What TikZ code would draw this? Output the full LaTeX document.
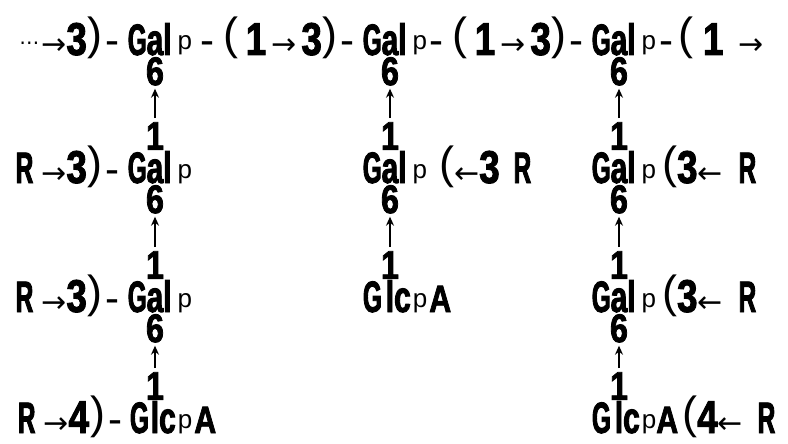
\documentclass[tikz,border=0pt]{standalone}
\usepackage{fontspec}
\setmainfont{Liberation Sans}
\newfontfamily\heavy{Liberation Sans Bold}[FakeStretch=0.68,FakeBold=2]
\newfontfamily\narrow{Liberation Sans Bold}[FakeStretch=0.55,FakeBold=2]
\newfontfamily\digit{Liberation Sans Bold}[FakeStretch=0.8,FakeBold=2]
\newfontfamily\arrowfont{DejaVu Sans}
\usetikzlibrary{arrows.meta}
\usetikzlibrary{positioning}

% pieces of the linkage notation
\newcommand\toR{{\arrowfont\fontsize{30}{30}\selectfont →}}
\newcommand\toL{{\arrowfont\fontsize{30}{30}\selectfont ←}}
\newcommand\dg[1]{{\digit\fontsize{46}{46}\selectfont #1}}
\newcommand\opn{{\rmfamily\fontsize{45}{45}\selectfont\smash{\raisebox{5pt}{(}}}}
\newcommand\cls{{\rmfamily\fontsize{45}{45}\selectfont\smash{\raisebox{5pt}{)}}}}
\newcommand\hyph{{\rmfamily\fontsize{42}{42}\selectfont -}}
\newcommand\capit[1]{{\narrow #1}}
\newcommand\pyr[1][6pt]{\hspace{#1}\raisebox{5pt}{\rmfamily\fontsize{26}{26}\selectfont p}}
\newcommand\acid{{\digit\fontsize{38}{38}\selectfont A}}
\newcommand\dotsleft{\raisebox{5pt}{\arrowfont\fontsize{20}{20}\selectfont ⋯}}

\tikzset{
  res/.style={inner sep=0pt, anchor=base, font=\heavy\fontsize{44}{44}\selectfont},
  num/.style={inner sep=0pt, font=\digit\fontsize{40}{40}\selectfont},
  link/.style={-{Stealth[length=9pt,width=8pt]}, line width=1.8pt, shorten >=3pt, shorten <=4pt}
}

\begin{document}
\begin{tikzpicture}[x=1pt,y=-1pt]
  \useasboundingbox (0,0) rectangle (788,444);
  % main chain
  \node[res] (g11) at (155,55) {\llap{\dotsleft\hspace{2pt}\toR\dg{3}\hspace{1pt}\cls\hspace{3pt}\hyph\hspace{8pt}\capit{G}}a\rlap{l\pyr}};
  \node[res] (g12) at (390,55) {\llap{\hyph\hspace{9pt}\opn\hspace{7pt}\dg{1}\hspace{5pt}\toR\hspace{5pt}\dg{3}\hspace{1pt}\cls\hspace{3pt}\hyph\hspace{8pt}\capit{G}}a\rlap{l\pyr}};
  \node[res] (g13) at (619,55) {\llap{\hyph\hspace{9pt}\opn\hspace{7pt}\dg{1}\hspace{5pt}\toR\hspace{5pt}\dg{3}\hspace{1pt}\cls\hspace{3pt}\hyph\hspace{8pt}\capit{G}}a\rlap{l\pyr\hspace{3pt}\hyph\hspace{5pt}\opn\hspace{10pt}\dg{1}\hspace{15pt}\toR}};
  % side chains
  \node[res] (g21) at (155,183) {\llap{\capit{R}\hspace{8pt}\toR\dg{3}\hspace{1pt}\cls\hspace{3pt}\hyph\hspace{8pt}\capit{G}}a\rlap{l\pyr}};
  \node[res] (g22) at (390,183) {\llap{\capit{G}}a\rlap{l\pyr\hspace{12pt}\opn\toL\dg{3}\hspace{14pt}\capit{R}}};
  \node[res] (g23) at (619,183) {\llap{\capit{G}}a\rlap{l\pyr\hspace{6pt}\opn\dg{3}\toL\hspace{16pt}\capit{R}}};
  \node[res] (g31) at (155,312) {\llap{\capit{R}\hspace{8pt}\toR\dg{3}\hspace{1pt}\cls\hspace{3pt}\hyph\hspace{8pt}\capit{G}}a\rlap{l\pyr}};
  \node[res] (g32) at (390,312) {\llap{\capit{G}\hspace{4pt}}l\rlap{c\pyr[2pt]\hspace{2pt}\acid}};
  \node[res] (g33) at (619,312) {\llap{\capit{G}}a\rlap{l\pyr\hspace{6pt}\opn\dg{3}\toL\hspace{16pt}\capit{R}}};
  \node[res] (g41) at (155,433) {\llap{\capit{R}\hspace{8pt}\toR\dg{4}\hspace{1pt}\cls\hspace{3pt}\hyph\hspace{8pt}\capit{G}\hspace{2pt}}l\rlap{c\pyr[2pt]\hspace{2pt}\acid}};
  \node[res] (g43) at (619,433) {\llap{\capit{G}\hspace{4pt}}l\rlap{c\pyr[2pt]\acid\hspace{4pt}\opn\dg{4}\toL\hspace{15pt}\capit{R}}};
  % 1->6 links
  \foreach \u/\l in {11/21,21/31,31/41,12/22,22/32,13/23,23/33,33/43} {
    \node[num, below=2pt of g\u.base] (six\u) {6};
    \node[num, above=33pt of g\l.base] (one\l) {1};
    \draw[link] (one\l) -- (six\u);
  }
\end{tikzpicture}
\end{document}
